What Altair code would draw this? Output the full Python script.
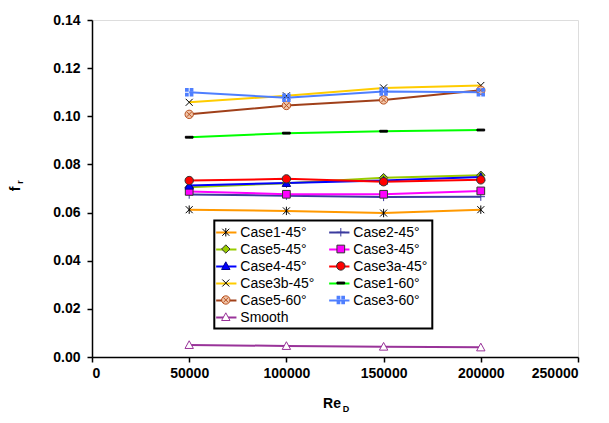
import altair as alt
import pandas as pd

# ---------------- data ----------------
re_d = [50000, 100000, 150000, 200000]
series_names = ["Case1-45°", "Case2-45°", "Case5-45°", "Case3-45°", "Case4-45°",
                "Case3a-45°", "Case3b-45°", "Case1-60°", "Case5-60°", "Case3-60°", "Smooth"]
case1_45 = [0.0612, 0.0607, 0.0598, 0.0612]
case2_45 = [0.0675, 0.0670, 0.0665, 0.0666]
case5_45 = [0.0705, 0.0722, 0.0745, 0.0755]
case3_45 = [0.0688, 0.0676, 0.0676, 0.0690]
case4_45 = [0.0712, 0.0723, 0.0733, 0.0748]
case3a_45 = [0.0733, 0.0740, 0.0728, 0.0736]
case3b_45 = [0.1058, 0.1085, 0.1118, 0.1128]
case1_60 = [0.0913, 0.0930, 0.0938, 0.0943]
case5_60 = [0.1008, 0.1045, 0.1068, 0.1108]
case3_60 = [0.1100, 0.1077, 0.1103, 0.1100]
smooth = [0.0050, 0.0046, 0.0043, 0.0040]
all_values = [case1_45, case2_45, case5_45, case3_45, case4_45, case3a_45,
              case3b_45, case1_60, case5_60, case3_60, smooth]

x_ticks = [0, 50000, 100000, 150000, 200000, 250000]
y_ticks = [0.0, 0.02, 0.04, 0.06, 0.08, 0.10, 0.12, 0.14]

# ---------------- styles ----------------
line_colors = ["#FF9900", "#3B3B9E", "#99CC00", "#FF00FF", "#0000FF", "#FF0000",
               "#FFCC00", "#00FF00", "#A0401A", "#4F7FFF", "#993399"]
marker_fill = ["transparent", "transparent", "#99CC00", "#FF00FF", "#0000FF", "#FF0000",
               "transparent", "#000000", "#F0C4A8", "#4F7FFF", "#FFFFFF"]
marker_stroke = ["#000000", "#3B3B9E", "#333333", "#333333", "#00008B", "#333333",
                 "#000000", "#000000", "#B8501E", "transparent", "#993399"]
# invisible move-to points give the marker symbols the same footprint as the line symbols
P0 = "M-1.45,0M1.45,0"
CIRC = "M-0.6,0A0.6,0.6,0,1,0,0.6,0A0.6,0.6,0,1,0,-0.6,0Z"
marker_shape = [
    P0 + "M-0.5,-0.5L0.5,0.5M-0.5,0.5L0.5,-0.5M0,-0.6V0.6",          # asterisk
    P0 + "M-0.6,0H0.6M0,-0.6V0.6",                                      # plus
    P0 + "M0,-0.6L0.6,0L0,0.6L-0.6,0Z",                                # diamond
    P0 + "M-0.55,-0.55H0.55V0.55H-0.55Z",                              # square
    P0 + "M0,-0.6L0.6,0.5H-0.6Z",                                      # triangle
    P0 + CIRC,                                                          # circle
    P0 + "M-0.5,-0.5L0.5,0.5M-0.5,0.5L0.5,-0.5",                       # x
    P0 + "M-0.55,-0.13H0.55V0.13H-0.55Z",                              # dash
    P0 + CIRC + "M-0.35,-0.35L0.35,0.35M-0.35,0.35L0.35,-0.35",        # circle with x
    P0 + "M-0.6,-0.6H-0.07V-0.07H-0.6ZM0.07,-0.6H0.6V-0.07H0.07Z"
         "M-0.6,0.07H-0.07V0.6H-0.6ZM0.07,0.07H0.6V0.6H0.07Z",         # square w/ white cross
    P0 + "M0,-0.6L0.6,0.5H-0.6Z",                                      # hollow triangle
]
LINE_SYMBOL = "M-1.45,0H1.45"

ZW = "\u200b"  # zero-width suffix keeps the marker legend separate from the line legend
marker_names = [n + ZW for n in series_names]

rows = []
for name, mname, vals in zip(series_names, marker_names, all_values):
    for xv, yv in zip(re_d, vals):
        rows.append({"series": name, "marker": mname, "re": xv, "f": yv})
df = pd.DataFrame(rows)

FONT = "Liberation Sans"


def build(border):
    axis_common = dict(grid=False, domainColor="black", domainWidth=1.5, tickColor="black",
                       tickWidth=1.5, tickSize=5, labelFont=FONT, labelFontWeight="bold",
                       labelFontSize=14, labelColor="black", title=None)
    xenc = alt.X("re:Q", scale=alt.Scale(domain=[0, 250000], nice=False),
                 axis=alt.Axis(values=x_ticks, format="d", labelPadding=4, **axis_common))
    yenc = alt.Y("f:Q", scale=alt.Scale(domain=[0, 0.14], nice=False),
                 axis=alt.Axis(values=y_ticks, format=".2f", labelPadding=7, **axis_common))

    leg_common = dict(orient="none", legendX=122.3, legendY=200.5, columns=2, title=None,
                      direction="horizontal",
                      symbolSize=196, labelFont=FONT, labelFontSize=14, labelColor="black",
                      labelOffset=6, rowPadding=2, padding=4, labelLimit=300)
    line_legend = alt.Legend(symbolType=LINE_SYMBOL, symbolStrokeWidth=2, strokeColor="black",
                             columnPadding=9,
                             labelExpr="datum.label == 'Smooth' ? '\u00a0Smooth' : datum.label",
                             **leg_common)
    # marker legend: blank labels, column gap widened so its symbols sit on the lines above
    mark_legend = alt.Legend(labelOpacity=0, symbolStrokeWidth=1, columnPadding=89,
                             labelExpr="'\u00a0'",
                             **leg_common)

    lines = alt.Chart(df).mark_line(strokeWidth=2).encode(
        x=xenc, y=yenc,
        color=alt.Color("series:N", scale=alt.Scale(domain=series_names, range=line_colors),
                        legend=line_legend),
    )
    points = alt.Chart(df).mark_point(filled=True, opacity=1, size=196, strokeWidth=1).encode(
        x=xenc, y=yenc,
        shape=alt.Shape("marker:N", scale=alt.Scale(domain=marker_names, range=marker_shape),
                        legend=mark_legend),
        fill=alt.Fill("marker:N", scale=alt.Scale(domain=marker_names, range=marker_fill),
                      legend=mark_legend),
        stroke=alt.Stroke("marker:N", scale=alt.Scale(domain=marker_names, range=marker_stroke),
                          legend=mark_legend),
    )

    one = pd.DataFrame({"k": [0]})
    t_f = alt.Chart(one).mark_text(text="f", font=FONT, fontWeight="bold", fontSize=14,
                                   angle=270, align="center", baseline="middle",
                                   color="black").encode(x=alt.value(-76), y=alt.value(169))
    t_r = alt.Chart(one).mark_text(text="r", font=FONT, fontWeight="bold", fontSize=9,
                                   angle=270, align="center", baseline="middle",
                                   color="black").encode(x=alt.value(-72.5), y=alt.value(162))
    t_re = alt.Chart(one).mark_text(text="Re", font=FONT, fontWeight="bold", fontSize=14,
                                    align="center", baseline="middle",
                                    color="black").encode(x=alt.value(240), y=alt.value(384))
    t_d = alt.Chart(one).mark_text(text="D", font=FONT, fontWeight="bold", fontSize=9,
                                   align="center", baseline="middle",
                                   color="black").encode(x=alt.value(254), y=alt.value(389))

    chart = alt.layer(lines, points, t_f, t_r, t_re, t_d).properties(
        width=486, height=337,
        padding={"left": 84, "top": 12, "right": 23, "bottom": 58},
        autosize=alt.AutoSizeParams(type="none"),
    ).configure_view(stroke=None).configure(background="white")
    if border:
        chart = chart.configure_legend(strokeWidth=2)
    return chart


try:
    chart = build(True)
    chart.to_dict()
except Exception:
    chart = build(False)

chart.save("out.html", embed_options={"renderer": "svg", "actions": False})
